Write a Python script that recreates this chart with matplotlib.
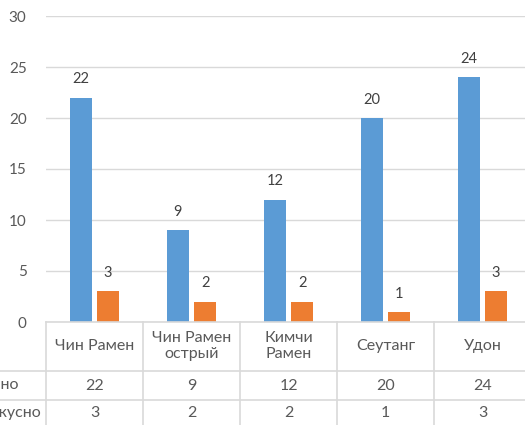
import matplotlib.pyplot as plt
import numpy as np

plt.rcParams['font.family'] = ['Lato', 'DejaVu Sans']

categories = ['Чин Рамен', 'Чин Рамен\nострый', 'Кимчи\nРамен', 'Сеутанг', 'Удон']
row_names = ['Вкусно', 'Не вкусно']
tasty = [22, 9, 12, 20, 24]
not_tasty = [3, 2, 2, 1, 3]

blue = '#5B9BD5'
orange = '#ED7D31'
grid_col = '#D9D9D9'
text_col = '#595959'

W, H = 525, 425
fig = plt.figure(figsize=(W / 100, H / 100), dpi=100)

# plot area in pixels
left_px, right_px = 46, 531
top_px, bottom_px = 16, 322
ax = fig.add_axes([left_px / W, 1 - bottom_px / H,
                   (right_px - left_px) / W, (bottom_px - top_px) / H])

x = np.arange(len(categories))
bw = 0.22
off = 0.14
b1 = ax.bar(x - off, tasty, bw, color=blue)
b2 = ax.bar(x + off, not_tasty, bw, color=orange)

for bars, vals in ((b1, tasty), (b2, not_tasty)):
    for r, v in zip(bars, vals):
        ax.annotate(str(v), (r.get_x() + r.get_width() / 2, v),
                    xytext=(0, 8), textcoords='offset points',
                    ha='center', va='bottom', fontsize=10.5, color='#404040')

ax.set_xlim(-0.5, len(categories) - 0.5)
ax.set_ylim(0, 30)
ax.set_yticks(range(0, 31, 5))
ax.yaxis.grid(True, color=grid_col, linewidth=1)
ax.set_axisbelow(True)
ax.tick_params(axis='y', length=0, pad=14, labelsize=11, labelcolor=text_col)
ax.tick_params(axis='x', length=0, labelbottom=False)
for s in ax.spines.values():
    s.set_visible(False)


def ay(py):
    # figure pixel y -> axes fraction
    return (bottom_px - py) / (bottom_px - top_px)


tr = ax.get_xaxis_transform()
line_kw = dict(color=grid_col, linewidth=1.2, clip_on=False, transform=tr)

# table grid
ax.plot([-0.5, len(categories) - 0.5], [0, 0], **line_kw)
edges = np.arange(len(categories) + 1) - 0.5
for e in edges:
    ax.plot([e, e], [0, ay(430)], **line_kw)
x_fig0 = -0.5 - left_px / 97
for py in (371, 400):
    ax.plot([x_fig0, len(categories) - 0.5], [ay(py), ay(py)], **line_kw)

for i, c in enumerate(categories):
    ax.text(i, ay(346), c, ha='center', va='center', fontsize=11.5,
            color=text_col, transform=tr, linespacing=1.15)
for i in range(len(categories)):
    ax.text(i, ay(385.5), str(tasty[i]), ha='center', va='center',
            fontsize=11.5, color=text_col, transform=tr)
    ax.text(i, ay(413), str(not_tasty[i]), ha='center', va='center',
            fontsize=11.5, color=text_col, transform=tr)

# row headers: left aligned, partly outside the figure like the reference
renderer = fig.canvas.get_renderer()
probe = fig.text(0, 0, row_names[0], fontsize=11.5)
w0 = probe.get_window_extent(renderer).width
probe.remove()
x_left = (19 - w0) / W
for name, py in zip(row_names, (385.5, 413)):
    fig.text(x_left, 1 - py / H, name, ha='left', va='center',
             fontsize=11.5, color=text_col)

fig.savefig('out.png', dpi=100)
